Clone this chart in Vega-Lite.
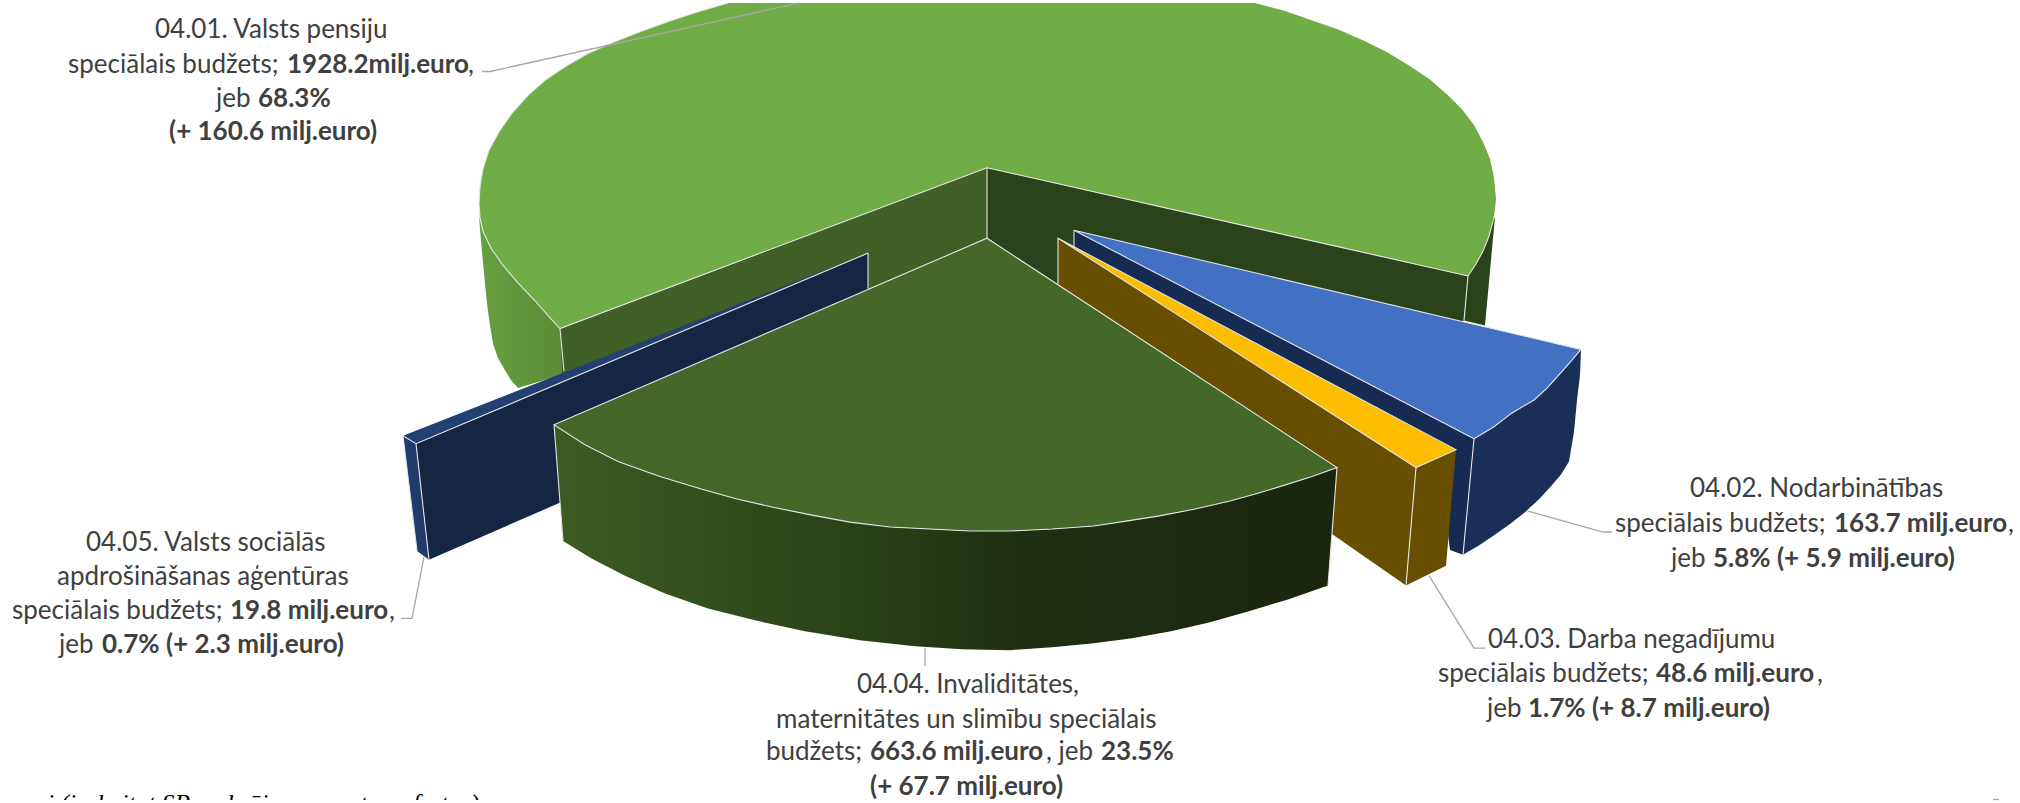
{
"$schema":"https://vega.github.io/schema/vega-lite/v6.json",
"description":"3D exploded pie of special budgets. Pie faces are polygons traced from the reference picture in a 2020x803 data space, because Vega-Lite has no 3D pie; the shares are stated in the labels.",
"width":2020,"height":803,"padding":0,
"autosize":{"type":"fit","contains":"padding"},
"background":"white",
"config":{"view":{"stroke":null}},
"datasets":{
"gside":[{"f":"g","i":1,"x":479,"y":215},{"f":"g","i":2,"x":481,"y":240},{"f":"g","i":3,"x":484,"y":272},{"f":"g","i":4,"x":487,"y":303},{"f":"g","i":5,"x":490,"y":325},{"f":"g","i":6,"x":493,"y":343},{"f":"g","i":7,"x":498,"y":358},{"f":"g","i":8,"x":505,"y":370},{"f":"g","i":9,"x":511,"y":380},{"f":"g","i":10,"x":518,"y":388},{"f":"g","i":11,"x":570,"y":372},{"f":"g","i":12,"x":562,"y":328},{"f":"g","i":13,"x":535,"y":300},{"f":"g","i":14,"x":502,"y":263},{"f":"g","i":15,"x":483,"y":230}],
"back":[
{"f":"g_right_side","i":1,"x":1468,"y":275},{"f":"g_right_side","i":2,"x":1483,"y":250},{"f":"g_right_side","i":3,"x":1495,"y":215},{"f":"g_right_side","i":4,"x":1485,"y":325},{"f":"g_right_side","i":5,"x":1464,"y":320},
{"f":"g_wall_left","i":1,"x":560,"y":328},{"f":"g_wall_left","i":2,"x":987,"y":166},{"f":"g_wall_left","i":3,"x":987,"y":240},{"f":"g_wall_left","i":4,"x":564,"y":412},
{"f":"g_wall_right","i":1,"x":987,"y":166},{"f":"g_wall_right","i":2,"x":1468,"y":275},{"f":"g_wall_right","i":3,"x":1464,"y":320},{"f":"g_wall_right","i":4,"x":1200,"y":400},{"f":"g_wall_right","i":5,"x":987,"y":237},
{"f":"g_top","i":1,"x":728,"y":0},{"f":"g_top","i":2,"x":699,"y":8.5},{"f":"g_top","i":3,"x":670,"y":18},{"f":"g_top","i":4,"x":640,"y":29},{"f":"g_top","i":5,"x":612,"y":40},{"f":"g_top","i":6,"x":588,"y":51},{"f":"g_top","i":7,"x":567,"y":63},{"f":"g_top","i":8,"x":546,"y":77},{"f":"g_top","i":9,"x":528,"y":93},{"f":"g_top","i":10,"x":512,"y":111},{"f":"g_top","i":11,"x":499,"y":130},{"f":"g_top","i":12,"x":489,"y":148},{"f":"g_top","i":13,"x":483,"y":167},{"f":"g_top","i":14,"x":480,"y":185},{"f":"g_top","i":15,"x":479,"y":202},{"f":"g_top","i":16,"x":480,"y":216},{"f":"g_top","i":17,"x":483,"y":230},{"f":"g_top","i":18,"x":491,"y":247},{"f":"g_top","i":19,"x":502,"y":263},{"f":"g_top","i":20,"x":517,"y":281},{"f":"g_top","i":21,"x":535,"y":300},{"f":"g_top","i":22,"x":548,"y":315},{"f":"g_top","i":23,"x":560,"y":328},{"f":"g_top","i":24,"x":987,"y":166},{"f":"g_top","i":25,"x":1468,"y":275},{"f":"g_top","i":26,"x":1476,"y":263},{"f":"g_top","i":27,"x":1483,"y":250},{"f":"g_top","i":28,"x":1489,"y":235},{"f":"g_top","i":29,"x":1493,"y":220},{"f":"g_top","i":30,"x":1495,"y":208},{"f":"g_top","i":31,"x":1496,"y":197},{"f":"g_top","i":32,"x":1494,"y":176},{"f":"g_top","i":33,"x":1490,"y":157},{"f":"g_top","i":34,"x":1483,"y":140},{"f":"g_top","i":35,"x":1474,"y":123},{"f":"g_top","i":36,"x":1462,"y":107},{"f":"g_top","i":37,"x":1448,"y":93},{"f":"g_top","i":38,"x":1430,"y":77},{"f":"g_top","i":39,"x":1409,"y":63},{"f":"g_top","i":40,"x":1388,"y":50},{"f":"g_top","i":41,"x":1364,"y":38},{"f":"g_top","i":42,"x":1339,"y":27},{"f":"g_top","i":43,"x":1313,"y":18},{"f":"g_top","i":44,"x":1285,"y":8},{"f":"g_top","i":45,"x":1255,"y":0},
{"f":"s05_wall","i":1,"x":868,"y":252},{"f":"s05_wall","i":2,"x":868,"y":368},{"f":"s05_wall","i":3,"x":429,"y":561},{"f":"s05_wall","i":4,"x":416,"y":444},
{"f":"s05_side","i":1,"x":403,"y":436},{"f":"s05_side","i":2,"x":416,"y":444},{"f":"s05_side","i":3,"x":429,"y":561},{"f":"s05_side","i":4,"x":417,"y":552},
{"f":"s05_top","i":1,"x":868,"y":252},{"f":"s05_top","i":2,"x":403,"y":436},{"f":"s05_top","i":3,"x":416,"y":444},
{"f":"s02_wall","i":1,"x":1074,"y":229},{"f":"s02_wall","i":2,"x":1474,"y":439},{"f":"s02_wall","i":3,"x":1463,"y":556},{"f":"s02_wall","i":4,"x":1450,"y":551},{"f":"s02_wall","i":5,"x":1440,"y":470},{"f":"s02_wall","i":6,"x":1074,"y":247},
{"f":"s02_side","i":1,"x":1474,"y":439},{"f":"s02_side","i":2,"x":1494,"y":427},{"f":"s02_side","i":3,"x":1512,"y":413},{"f":"s02_side","i":4,"x":1534,"y":400},{"f":"s02_side","i":5,"x":1546,"y":389},{"f":"s02_side","i":6,"x":1557,"y":377},{"f":"s02_side","i":7,"x":1570,"y":362},{"f":"s02_side","i":8,"x":1581,"y":349},{"f":"s02_side","i":9,"x":1580,"y":375},{"f":"s02_side","i":10,"x":1577,"y":400},{"f":"s02_side","i":11,"x":1574,"y":432},{"f":"s02_side","i":12,"x":1569,"y":462},{"f":"s02_side","i":13,"x":1561,"y":475},{"f":"s02_side","i":14,"x":1551,"y":487},{"f":"s02_side","i":15,"x":1539,"y":500},{"f":"s02_side","i":16,"x":1525,"y":513},{"f":"s02_side","i":17,"x":1510,"y":525},{"f":"s02_side","i":18,"x":1493,"y":537},{"f":"s02_side","i":19,"x":1478,"y":547},{"f":"s02_side","i":20,"x":1463,"y":556},
{"f":"s02_top","i":1,"x":1074,"y":229},{"f":"s02_top","i":2,"x":1581,"y":349},{"f":"s02_top","i":3,"x":1570,"y":362},{"f":"s02_top","i":4,"x":1557,"y":377},{"f":"s02_top","i":5,"x":1546,"y":389},{"f":"s02_top","i":6,"x":1534,"y":400},{"f":"s02_top","i":7,"x":1512,"y":413},{"f":"s02_top","i":8,"x":1494,"y":427},{"f":"s02_top","i":9,"x":1474,"y":439},
{"f":"s03_wall","i":1,"x":1058,"y":237},{"f":"s03_wall","i":2,"x":1416,"y":468},{"f":"s03_wall","i":3,"x":1406,"y":587},{"f":"s03_wall","i":4,"x":1332,"y":535},{"f":"s03_wall","i":5,"x":1058,"y":283},
{"f":"s03_side","i":1,"x":1416,"y":468},{"f":"s03_side","i":2,"x":1456,"y":450},{"f":"s03_side","i":3,"x":1446,"y":567},{"f":"s03_side","i":4,"x":1406,"y":587},
{"f":"s03_top","i":1,"x":1058,"y":237},{"f":"s03_top","i":2,"x":1456,"y":450},{"f":"s03_top","i":3,"x":1416,"y":468}
],
"s04side":[{"f":"s","i":1,"x":554,"y":425},{"f":"s","i":2,"x":585,"y":445},{"f":"s","i":3,"x":618,"y":462},{"f":"s","i":4,"x":660,"y":477},{"f":"s","i":5,"x":702,"y":490},{"f":"s","i":6,"x":738,"y":500},{"f":"s","i":7,"x":773,"y":508},{"f":"s","i":8,"x":812,"y":516},{"f":"s","i":9,"x":850,"y":523},{"f":"s","i":10,"x":890,"y":528},{"f":"s","i":11,"x":930,"y":530},{"f":"s","i":12,"x":970,"y":532},{"f":"s","i":13,"x":1010,"y":532},{"f":"s","i":14,"x":1052,"y":530},{"f":"s","i":15,"x":1094,"y":527},{"f":"s","i":16,"x":1126,"y":522},{"f":"s","i":17,"x":1158,"y":517},{"f":"s","i":18,"x":1194,"y":510},{"f":"s","i":19,"x":1229,"y":502},{"f":"s","i":20,"x":1258,"y":494},{"f":"s","i":21,"x":1287,"y":485},{"f":"s","i":22,"x":1312,"y":477},{"f":"s","i":23,"x":1337,"y":468},{"f":"s","i":24,"x":1328,"y":587},{"f":"s","i":25,"x":1288,"y":601},{"f":"s","i":26,"x":1248,"y":613},{"f":"s","i":27,"x":1210,"y":624},{"f":"s","i":28,"x":1171,"y":633},{"f":"s","i":29,"x":1132,"y":640},{"f":"s","i":30,"x":1094,"y":645},{"f":"s","i":31,"x":1052,"y":649},{"f":"s","i":32,"x":1010,"y":652},{"f":"s","i":33,"x":962,"y":651},{"f":"s","i":34,"x":915,"y":648},{"f":"s","i":35,"x":860,"y":642},{"f":"s","i":36,"x":805,"y":633},{"f":"s","i":37,"x":755,"y":622},{"f":"s","i":38,"x":708,"y":610},{"f":"s","i":39,"x":665,"y":595},{"f":"s","i":40,"x":625,"y":577},{"f":"s","i":41,"x":592,"y":560},{"f":"s","i":42,"x":563,"y":542}],
"s04top":[{"f":"t","i":1,"x":987,"y":237},{"f":"t","i":2,"x":1337,"y":468},{"f":"t","i":3,"x":1312,"y":477},{"f":"t","i":4,"x":1287,"y":485},{"f":"t","i":5,"x":1258,"y":494},{"f":"t","i":6,"x":1229,"y":502},{"f":"t","i":7,"x":1194,"y":510},{"f":"t","i":8,"x":1158,"y":517},{"f":"t","i":9,"x":1126,"y":522},{"f":"t","i":10,"x":1094,"y":527},{"f":"t","i":11,"x":1052,"y":530},{"f":"t","i":12,"x":1010,"y":532},{"f":"t","i":13,"x":970,"y":532},{"f":"t","i":14,"x":930,"y":530},{"f":"t","i":15,"x":890,"y":528},{"f":"t","i":16,"x":850,"y":523},{"f":"t","i":17,"x":812,"y":516},{"f":"t","i":18,"x":773,"y":508},{"f":"t","i":19,"x":738,"y":500},{"f":"t","i":20,"x":702,"y":490},{"f":"t","i":21,"x":660,"y":477},{"f":"t","i":22,"x":618,"y":462},{"f":"t","i":23,"x":585,"y":445},{"f":"t","i":24,"x":554,"y":425}],
"edges":[
{"e":"a","i":1,"x":728,"y":0},{"e":"a","i":2,"x":699,"y":8.5},{"e":"a","i":3,"x":670,"y":18},{"e":"a","i":4,"x":640,"y":29},{"e":"a","i":5,"x":612,"y":40},{"e":"a","i":6,"x":588,"y":51},{"e":"a","i":7,"x":567,"y":63},{"e":"a","i":8,"x":546,"y":77},{"e":"a","i":9,"x":528,"y":93},{"e":"a","i":10,"x":512,"y":111},{"e":"a","i":11,"x":499,"y":130},{"e":"a","i":12,"x":489,"y":148},{"e":"a","i":13,"x":483,"y":167},{"e":"a","i":14,"x":480,"y":185},{"e":"a","i":15,"x":479,"y":202},{"e":"a","i":16,"x":480,"y":216},{"e":"a","i":17,"x":483,"y":230},{"e":"a","i":18,"x":491,"y":247},{"e":"a","i":19,"x":502,"y":263},{"e":"a","i":20,"x":517,"y":281},{"e":"a","i":21,"x":535,"y":300},{"e":"a","i":22,"x":548,"y":315},{"e":"a","i":23,"x":560,"y":328},{"e":"a","i":24,"x":987,"y":166},{"e":"a","i":25,"x":1468,"y":275},{"e":"a","i":26,"x":1476,"y":263},{"e":"a","i":27,"x":1483,"y":250},{"e":"a","i":28,"x":1489,"y":235},{"e":"a","i":29,"x":1493,"y":220},
{"e":"b","i":1,"x":560,"y":328},{"e":"b","i":2,"x":564,"y":371},
{"e":"c","i":1,"x":987,"y":166},{"e":"c","i":2,"x":987,"y":237},
{"e":"d","i":1,"x":1468,"y":275},{"e":"d","i":2,"x":1464,"y":320},
{"e":"f","i":1,"x":868,"y":252},{"e":"f","i":2,"x":416,"y":444},{"e":"f","i":3,"x":403,"y":436},{"e":"f","i":4,"x":417,"y":552},
{"e":"f2","i":1,"x":416,"y":444},{"e":"f2","i":2,"x":429,"y":561},
{"e":"f3","i":1,"x":868,"y":252},{"e":"f3","i":2,"x":868,"y":288},
{"e":"h","i":1,"x":1463,"y":556},{"e":"h","i":2,"x":1474,"y":439},{"e":"h","i":3,"x":1494,"y":427},{"e":"h","i":4,"x":1512,"y":413},{"e":"h","i":5,"x":1534,"y":400},{"e":"h","i":6,"x":1546,"y":389},{"e":"h","i":7,"x":1557,"y":377},{"e":"h","i":8,"x":1570,"y":362},{"e":"h","i":9,"x":1581,"y":349},{"e":"h","i":10,"x":1074,"y":229},{"e":"h","i":11,"x":1474,"y":439},
{"e":"h2","i":1,"x":1074,"y":229},{"e":"h2","i":2,"x":1074,"y":247},
{"e":"j","i":1,"x":1058,"y":283},{"e":"j","i":2,"x":1058,"y":237},{"e":"j","i":3,"x":1416,"y":468},{"e":"j","i":4,"x":1456,"y":450},{"e":"j","i":5,"x":1058,"y":237},
{"e":"j2","i":1,"x":1416,"y":468},{"e":"j2","i":2,"x":1406,"y":587},
{"e":"k","i":1,"x":563,"y":542},{"e":"k","i":2,"x":554,"y":425},{"e":"k","i":3,"x":585,"y":445},{"e":"k","i":4,"x":618,"y":462},{"e":"k","i":5,"x":660,"y":477},{"e":"k","i":6,"x":702,"y":490},{"e":"k","i":7,"x":738,"y":500},{"e":"k","i":8,"x":773,"y":508},{"e":"k","i":9,"x":812,"y":516},{"e":"k","i":10,"x":850,"y":523},{"e":"k","i":11,"x":890,"y":528},{"e":"k","i":12,"x":930,"y":530},{"e":"k","i":13,"x":970,"y":532},{"e":"k","i":14,"x":1010,"y":532},{"e":"k","i":15,"x":1052,"y":530},{"e":"k","i":16,"x":1094,"y":527},{"e":"k","i":17,"x":1126,"y":522},{"e":"k","i":18,"x":1158,"y":517},{"e":"k","i":19,"x":1194,"y":510},{"e":"k","i":20,"x":1229,"y":502},{"e":"k","i":21,"x":1258,"y":494},{"e":"k","i":22,"x":1287,"y":485},{"e":"k","i":23,"x":1312,"y":477},{"e":"k","i":24,"x":1337,"y":468},{"e":"k","i":25,"x":987,"y":237},{"e":"k","i":26,"x":554,"y":425},
{"e":"k2","i":1,"x":1337,"y":468},{"e":"k2","i":2,"x":1328,"y":587}
],
"leaders":[
{"l":"01","i":1,"x":799,"y":0},{"l":"01","i":2,"x":490,"y":69},{"l":"01","i":3,"x":482,"y":69},
{"l":"02","i":1,"x":1528,"y":512},{"l":"02","i":2,"x":1603,"y":533},{"l":"02","i":3,"x":1612,"y":533},
{"l":"03","i":1,"x":1429,"y":577},{"l":"03","i":2,"x":1474,"y":650},{"l":"03","i":3,"x":1485,"y":650},
{"l":"04","i":1,"x":925,"y":650},{"l":"04","i":2,"x":925,"y":668},
{"l":"05","i":1,"x":424,"y":558},{"l":"05","i":2,"x":412,"y":620},{"l":"05","i":3,"x":401,"y":620},
{"l":"p","i":1,"x":1993,"y":802.5},{"l":"p","i":2,"x":1999,"y":802.5}
],
"regular":[
{"t":"04.01. Valsts pensiju","x":155,"y":27},{"t":"speciālais budžets; ","x":68,"y":62},{"t":",","x":468,"y":62},{"t":"jeb ","x":216,"y":97},
{"t":"04.02. Nodarbinātības","x":1690,"y":490},{"t":"speciālais budžets; ","x":1615,"y":525},{"t":",","x":2008,"y":525},{"t":"jeb ","x":1671,"y":560},
{"t":"04.03. Darba negadījumu","x":1488,"y":642},{"t":"speciālais budžets; ","x":1438,"y":676},{"t":",","x":1817,"y":676},{"t":"jeb ","x":1487,"y":711},
{"t":"04.04. Invaliditātes,","x":857,"y":687},{"t":"maternitātes un slimību speciālais","x":776,"y":722},{"t":"budžets; ","x":766,"y":755},{"t":", jeb ","x":1046,"y":755},
{"t":"04.05. Valsts sociālās","x":86,"y":544},{"t":"apdrošināšanas aģentūras","x":57,"y":578},{"t":"speciālais budžets; ","x":12,"y":613},{"t":",","x":389,"y":613},{"t":"jeb ","x":59,"y":647}
],
"bold":[
{"t":"1928.2milj.euro","x":287,"y":62},{"t":"68.3%","x":258,"y":97},{"t":"(+ 160.6 milj.euro)","x":169,"y":130},
{"t":"163.7 milj.euro","x":1834,"y":525},{"t":"5.8% (+ 5.9 milj.euro)","x":1713,"y":560},
{"t":"48.6 milj.euro","x":1656,"y":676},{"t":"1.7% (+ 8.7 milj.euro)","x":1528,"y":711},
{"t":"663.6 milj.euro","x":870,"y":755},{"t":"23.5%","x":1101,"y":755},{"t":"(+ 67.7 milj.euro)","x":870,"y":790},
{"t":"19.8 milj.euro","x":230,"y":613},{"t":"0.7% (+ 2.3 milj.euro)","x":102,"y":647}
],
"cut":[{"t":"i (ieskaitot SP maksājumus un transfertus)","x":47,"y":815.5}]
},
"encoding":{
"x":{"field":"x","type":"quantitative","scale":{"domain":[0,2020]},"axis":null},
"y":{"field":"y","type":"quantitative","scale":{"domain":[803,0]},"axis":null}
},
"layer":[
{"data":{"name":"gside"},"mark":{"type":"line","stroke":null,"fill":{"gradient":"linear","x1":0,"y1":0,"x2":1,"y2":0,"stops":[{"offset":0,"color":"#66a040"},{"offset":1,"color":"#598b36"}]}},"encoding":{"order":{"field":"i"}}},
{"data":{"name":"back"},"mark":{"type":"line","stroke":null},"encoding":{"order":{"field":"i"},"detail":{"field":"f"},"fill":{"field":"f","type":"nominal","legend":null,"sort":null,"scale":{"domain":["g_right_side","g_wall_left","g_wall_right","g_top","s05_wall","s05_side","s05_top","s02_wall","s02_side","s02_top","s03_wall","s03_side","s03_top"],"range":["#2b431a","#3f6026","#2b431a","#70ad47","#142644","#1f3b6b","#224072","#152b52","#1a2f58","#4270c2","#674e00","#674e00","#fdbd00"]}}}},
{"data":{"name":"s04side"},"mark":{"type":"line","stroke":null,"fill":{"gradient":"linear","x1":0,"y1":0,"x2":1,"y2":0,"stops":[{"offset":0,"color":"#3c5c23"},{"offset":0.3,"color":"#2e4819"},{"offset":0.6,"color":"#202f10"},{"offset":1,"color":"#1a260d"}]}},"encoding":{"order":{"field":"i"}}},
{"data":{"name":"s04top"},"mark":{"type":"line","stroke":null,"fill":"#43682a"},"encoding":{"order":{"field":"i"}}},
{"data":{"name":"edges"},"mark":{"type":"line","stroke":"#e4e4e4","strokeWidth":1.1},"encoding":{"order":{"field":"i"},"detail":{"field":"e"}}},
{"data":{"name":"leaders"},"mark":{"type":"line","stroke":"#a6a6a6","strokeWidth":1.3},"encoding":{"order":{"field":"i"},"detail":{"field":"l"}}},
{"data":{"name":"regular"},"mark":{"type":"text","align":"left","baseline":"middle","font":"Lato","fontSize":26,"color":"#404040"},"encoding":{"text":{"field":"t"}}},
{"data":{"name":"bold"},"mark":{"type":"text","align":"left","baseline":"middle","font":"Lato","fontWeight":"bold","fontSize":26,"color":"#404040"},"encoding":{"text":{"field":"t"}}},
{"data":{"name":"cut"},"mark":{"type":"text","align":"left","baseline":"alphabetic","font":"Liberation Serif","fontStyle":"italic","fontSize":25.5,"color":"#000000","clip":true},"encoding":{"text":{"field":"t"}}}
]
}
